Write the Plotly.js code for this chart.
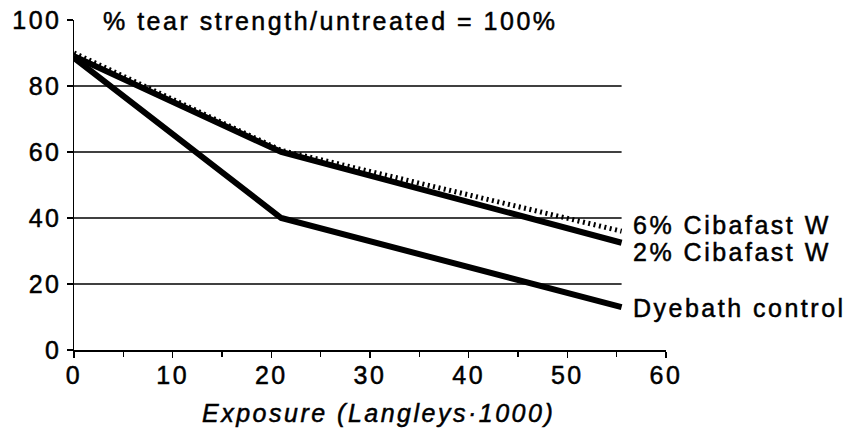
<!DOCTYPE html>
<html>
<head>
<meta charset="utf-8">
<script src="https://cdn.plot.ly/plotly-3.0.1.min.js"></script>
<style>
  html, body { margin: 0; padding: 0; background: #fff; }
  #chart { width: 861px; height: 429px; }
  text { letter-spacing: 2.5px; }
  #chart text { stroke: #000; stroke-width: 0.5px; }
</style>
</head>
<body>
<div id="chart"></div>
<script>
// ---- data ----
const exposure = [0, 21, 55.5];            // Langleys x 1000
const cibafast6 = [90, 60.5, 36];           // 6% Cibafast W
const cibafast2 = [89, 60, 32.5];           // 2% Cibafast W
const dyebath   = [88.5, 40, 13];           // Dyebath control
const seriesNames = ["6% Cibafast W", "2% Cibafast W", "Dyebath control"];
const xTicks = [0, 10, 20, 30, 40, 50, 60];
const yTicks = [0, 20, 40, 60, 80, 100];
const gridValues = [20, 40, 60, 80];
const titleText = "% tear strength/untreated = 100%";
const xTitleText = "Exposure (Langleys·1000)";

const FONT = "Liberation Sans, Arial, Helvetica, sans-serif";

const traces = [
  { x: exposure, y: cibafast2, mode: "lines", name: seriesNames[1],
    line: { color: "#000", width: 6 } },
  { x: exposure, y: dyebath, mode: "lines", name: seriesNames[2],
    line: { color: "#000", width: 6 } },
  { x: exposure, y: cibafast6, mode: "lines", name: seriesNames[0],
    line: { color: "#000", width: 5, dash: "2px,3.5px" } }
];

const lastX = exposure[exposure.length - 1];
const gridShapes = gridValues.map(v => ({
  type: "line", xref: "x", yref: "y", x0: 0, x1: lastX, y0: v, y1: v,
  line: { color: "#000", width: 1.5 }, layer: "below"
}));

const labelSeries = [cibafast6, cibafast2, dyebath];
const labelShift = [6, -9, -1];
const labelAnnotations = seriesNames.map((name, i) => ({
  xref: "x", yref: "y", x: lastX + 1, y: labelSeries[i][labelSeries[i].length - 1],
  text: name, showarrow: false, xanchor: "left", yanchor: "middle",
  yshift: labelShift[i], font: { family: FONT, size: 25, color: "#000" }
}));

const layout = {
  width: 861, height: 429,
  margin: { l: 74, r: 195, t: 20, b: 79, pad: 0 },
  paper_bgcolor: "#fff", plot_bgcolor: "#fff",
  showlegend: false,
  font: { family: FONT, size: 25, color: "#000" },
  xaxis: {
    range: [0, 60], tickvals: xTicks, ticktext: xTicks.map(String),
    ticks: "outside", ticklen: 6, tickwidth: 1.5, tickcolor: "#000",
    ticklabelstandoff: -4,
    minor: { dtick: 5, ticks: "outside", ticklen: 5, tickwidth: 1.5, tickcolor: "#000", showgrid: false },
    showline: true, linecolor: "#000", linewidth: 1.5,
    showgrid: false, zeroline: false, fixedrange: true,
    tickfont: { family: FONT, size: 25, color: "#000" }
  },
  yaxis: {
    range: [0, 100], tickvals: yTicks, ticktext: yTicks.map(String),
    ticks: "outside", ticklen: 6, tickwidth: 1.5, tickcolor: "#000",
    showline: true, linecolor: "#000", linewidth: 1.5,
    showgrid: false, zeroline: false, fixedrange: true,
    tickfont: { family: FONT, size: 25, color: "#000" }
  },
  shapes: gridShapes,
  annotations: [
    { xref: "paper", yref: "paper", x: 0.045, y: 1, xanchor: "left", yanchor: "middle",
      yshift: -1, text: titleText, showarrow: false,
      font: { family: FONT, size: 25, color: "#000" } },
    { xref: "paper", yref: "paper", x: 0.515, y: -0.19, xanchor: "center", yanchor: "middle",
      text: xTitleText, showarrow: false,
      font: { family: FONT, size: 25, color: "#000", style: "italic" } }
  ].concat(labelAnnotations)
};

Plotly.newPlot("chart", traces, layout, { staticPlot: true, displayModeBar: false });
</script>
</body>
</html>
